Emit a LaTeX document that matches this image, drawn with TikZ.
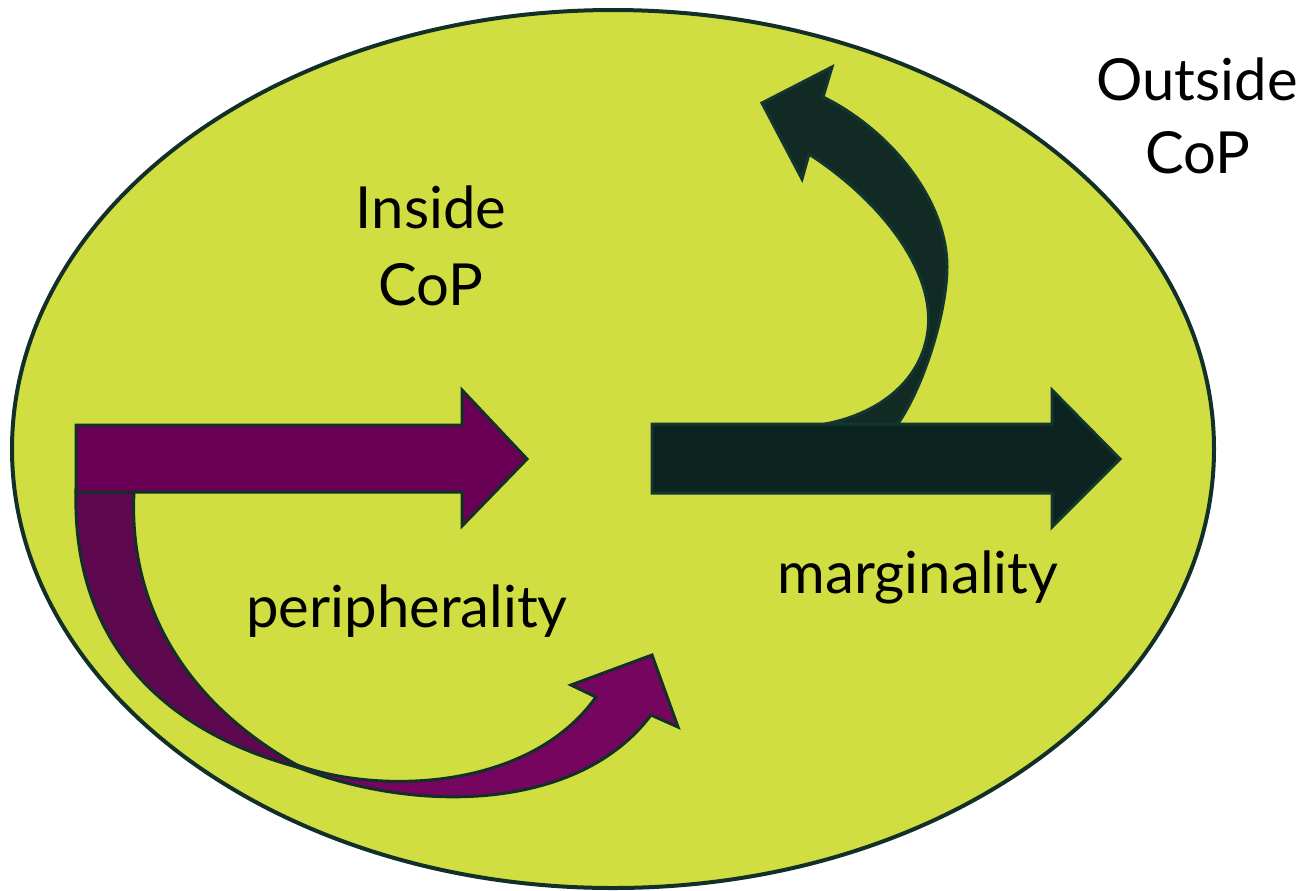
\documentclass[tikz,border=0pt]{standalone}
\usepackage{fontspec}
\setmainfont{Lato}
\definecolor{lime}{RGB}{209,222,66}
\definecolor{edgegreen}{RGB}{18,48,40}
\definecolor{purplemain}{RGB}{106,0,85}
\definecolor{purplefront}{RGB}{118,5,96}
\definecolor{purpleback}{RGB}{94,8,80}
\definecolor{darkarrow}{RGB}{12,36,32}
\definecolor{darkcurve}{RGB}{17,42,36}
\definecolor{darkedge}{RGB}{20,54,48}
\tikzset{
  arrowshape/.style={draw=edgegreen, line width=1.5pt, line join=miter},
  lbl/.style={font=\fontsize{29}{38}\selectfont, anchor=base, inner sep=0pt, text=black}
}
\begin{document}
\begin{tikzpicture}[x=0.5pt,y=-0.5pt]
\useasboundingbox (0,0) rectangle (1306,890);
% community ellipse
\path[fill=lime, draw=edgegreen, line width=2pt] (613,449) ellipse [x radius=601, y radius=439];

% purple curved arrow: back part
\path[arrowshape, fill=purpleback] (76,490) -- (134,492)
  .. controls (128,610) and (190,705) .. (297,765)
  -- (297,767)
  .. controls (160,730) and (72,640) .. (76,490)
  -- cycle;
% purple curved arrow: front part
\path[arrowshape, fill=purplefront] (297,765)
  .. controls (380,795) and (530,790) .. (596,697)
  -- (571,685) -- (652,655) -- (678,727) -- (651,715)
  .. controls (580,810) and (420,815) .. (297,767)
  -- cycle;
% purple straight arrow
\path[arrowshape, fill=purplemain] (76,425) -- (462,425) -- (462,390) -- (527,459)
  -- (462,526) -- (462,492) -- (76,492) -- cycle;

% dark curved arrow
\path[arrowshape, draw=darkedge, fill=darkcurve] (880,460) -- (897,425)
  .. controls (925,385) and (947,310) .. (947,267)
  .. controls (947,200) and (890,130) .. (823,97)
  -- (832,67) -- (762,103) -- (802,179) -- (809,154)
  .. controls (880,200) and (935,270) .. (928,330)
  .. controls (922,380) and (880,415) .. (820,425)
  -- (740,455) -- cycle;
% dark straight arrow
\path[arrowshape, draw=darkedge, fill=darkarrow] (652,424) -- (1052,424) -- (1052,390) -- (1120,459)
  -- (1052,527) -- (1052,493) -- (652,493) -- cycle;

% labels
\node[lbl] (inside1) at (431,228) {Inside};
\node[lbl] (inside2) at (431,305) {CoP};
\node[lbl] (outside1) at (1197,100) {Outside};
\node[lbl] (outside2) at (1198,173) {CoP};
\node[lbl] (periph) at (407,627) {peripherality};
\node[lbl] (margin) at (918,593) {marginality};
\end{tikzpicture}
\end{document}
